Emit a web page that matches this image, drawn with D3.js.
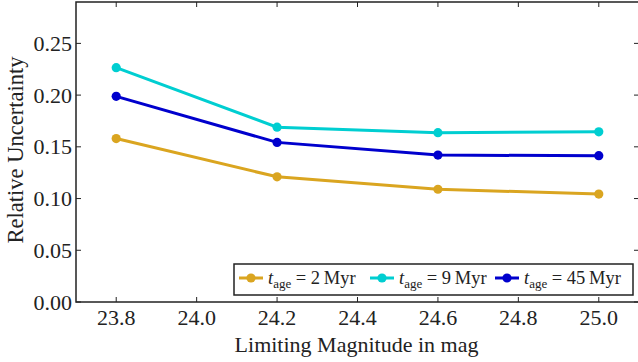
<!DOCTYPE html>
<html>
<head>
<meta charset="utf-8">
<script src="https://cdn.jsdelivr.net/npm/d3@7/dist/d3.min.js"></script>
<style>
  html, body { margin: 0; padding: 0; background: #fff; }
  svg { display: block; }
</style>
</head>
<body>
<svg id="chart" width="638" height="362"></svg>
<script>
// Limiting magnitudes (x) and relative uncertainty per stellar age
const magnitudes = [23.8, 24.2, 24.6, 25.0];
const ages = ["2", "9", "45"];
const colors = ["#DAA520", "#00CED1", "#0000CD"];
const uncert2Myr  = [0.158, 0.121, 0.109, 0.1043];
const uncert9Myr  = [0.2265, 0.169, 0.1637, 0.1645];
const uncert45Myr = [0.1988, 0.1543, 0.1420, 0.1414];
const xTicks = [23.8, 24.0, 24.2, 24.4, 24.6, 24.8, 25.0];
const yTicks = [0.00, 0.05, 0.10, 0.15, 0.20, 0.25];

const seriesValues = [uncert2Myr, uncert9Myr, uncert45Myr];
const FONT = "'Liberation Serif'";

const svg = d3.select("#chart");
const W = 638, H = 362;
const plotLeft = 76, plotRight = 639, plotTop = 2, plotBottom = 302;
const x = d3.scaleLinear().domain([23.7, 25.1]).range([plotLeft, plotRight]);
const y = d3.scaleLinear().domain([0, 0.29]).range([plotBottom, plotTop]);

const tickLen = 5;

// inward tick marks on all four sides
const tickG = svg.append("g");
xTicks.forEach(v => {
  tickG.append("line").attr("x1", x(v)).attr("x2", x(v)).attr("y1", plotBottom).attr("y2", plotBottom - tickLen).attr("stroke", "#222");
  tickG.append("line").attr("x1", x(v)).attr("x2", x(v)).attr("y1", plotTop).attr("y2", plotTop + tickLen).attr("stroke", "#222");
});
yTicks.forEach(v => {
  tickG.append("line").attr("x1", plotLeft).attr("x2", plotLeft + tickLen).attr("y1", y(v)).attr("y2", y(v)).attr("stroke", "#222");
  tickG.append("line").attr("x1", plotRight).attr("x2", plotRight - tickLen).attr("y1", y(v)).attr("y2", y(v)).attr("stroke", "#222");
});

// tick labels
const labelG = svg.append("g");
xTicks.forEach(v => {
  labelG.append("text").attr("x", x(v)).attr("y", 325).attr("text-anchor", "middle")
    .style("font-family", FONT).style("font-size", "22px").style("fill", "#222")
    .text(d3.format(".1f")(v));
});
yTicks.forEach(v => {
  labelG.append("text").attr("x", plotLeft - 4).attr("y", y(v) + 7.5).attr("text-anchor", "end")
    .style("font-family", FONT).style("font-size", "22px").style("fill", "#222")
    .text(d3.format(".2f")(v));
});

// frame
svg.append("rect")
  .attr("x", plotLeft).attr("y", plotTop)
  .attr("width", plotRight - plotLeft).attr("height", plotBottom - plotTop)
  .attr("fill", "none").attr("stroke", "#222").attr("stroke-width", 1.5);

// series lines and markers
const line = d3.line().x((d, i) => x(magnitudes[i])).y(d => y(d));
seriesValues.forEach((vals, k) => {
  svg.append("path").datum(vals)
    .attr("d", line).attr("fill", "none")
    .attr("stroke", colors[k]).attr("stroke-width", 3);
  svg.selectAll(null).data(vals).enter().append("circle")
    .attr("cx", (d, i) => x(magnitudes[i])).attr("cy", d => y(d))
    .attr("r", 4.6).attr("fill", colors[k]);
});

// axis titles
svg.append("text")
  .attr("x", (plotLeft + plotRight) / 2 - 1).attr("y", 352)
  .attr("text-anchor", "middle")
  .style("font-family", FONT).style("font-size", "22px").style("fill", "#222")
  .text("Limiting Magnitude in mag");
svg.append("text")
  .attr("transform", `translate(23,${(plotTop + plotBottom) / 2 - 2}) rotate(-90)`)
  .attr("text-anchor", "middle")
  .style("font-family", FONT).style("font-size", "22.5px").style("fill", "#222")
  .text("Relative Uncertainty");

// legend
const lg = svg.append("g");
lg.append("rect").attr("x", 234).attr("y", 264).attr("width", 399).attr("height", 31)
  .attr("fill", "#fff").attr("stroke", "#222").attr("stroke-width", 1.5);
const entryX = [239, 370, 495];
ages.forEach((a, k) => {
  const ex = entryX[k], ey = 278;
  lg.append("line").attr("x1", ex).attr("x2", ex + 24).attr("y1", ey).attr("y2", ey)
    .attr("stroke", colors[k]).attr("stroke-width", 3);
  lg.append("circle").attr("cx", ex + 12).attr("cy", ey).attr("r", 4.6).attr("fill", colors[k]);
  const t = lg.append("text").attr("x", ex + 29).attr("y", ey + 6)
    .style("font-family", FONT).style("font-size", "18.5px").style("fill", "#222");
  t.append("tspan").style("font-style", "italic").text("t");
  t.append("tspan").attr("dy", 4).style("font-size", "13px").text("age");
  t.append("tspan").attr("dy", -4).text(` = ${a}\u2009Myr`);
});
</script>
</body>
</html>
